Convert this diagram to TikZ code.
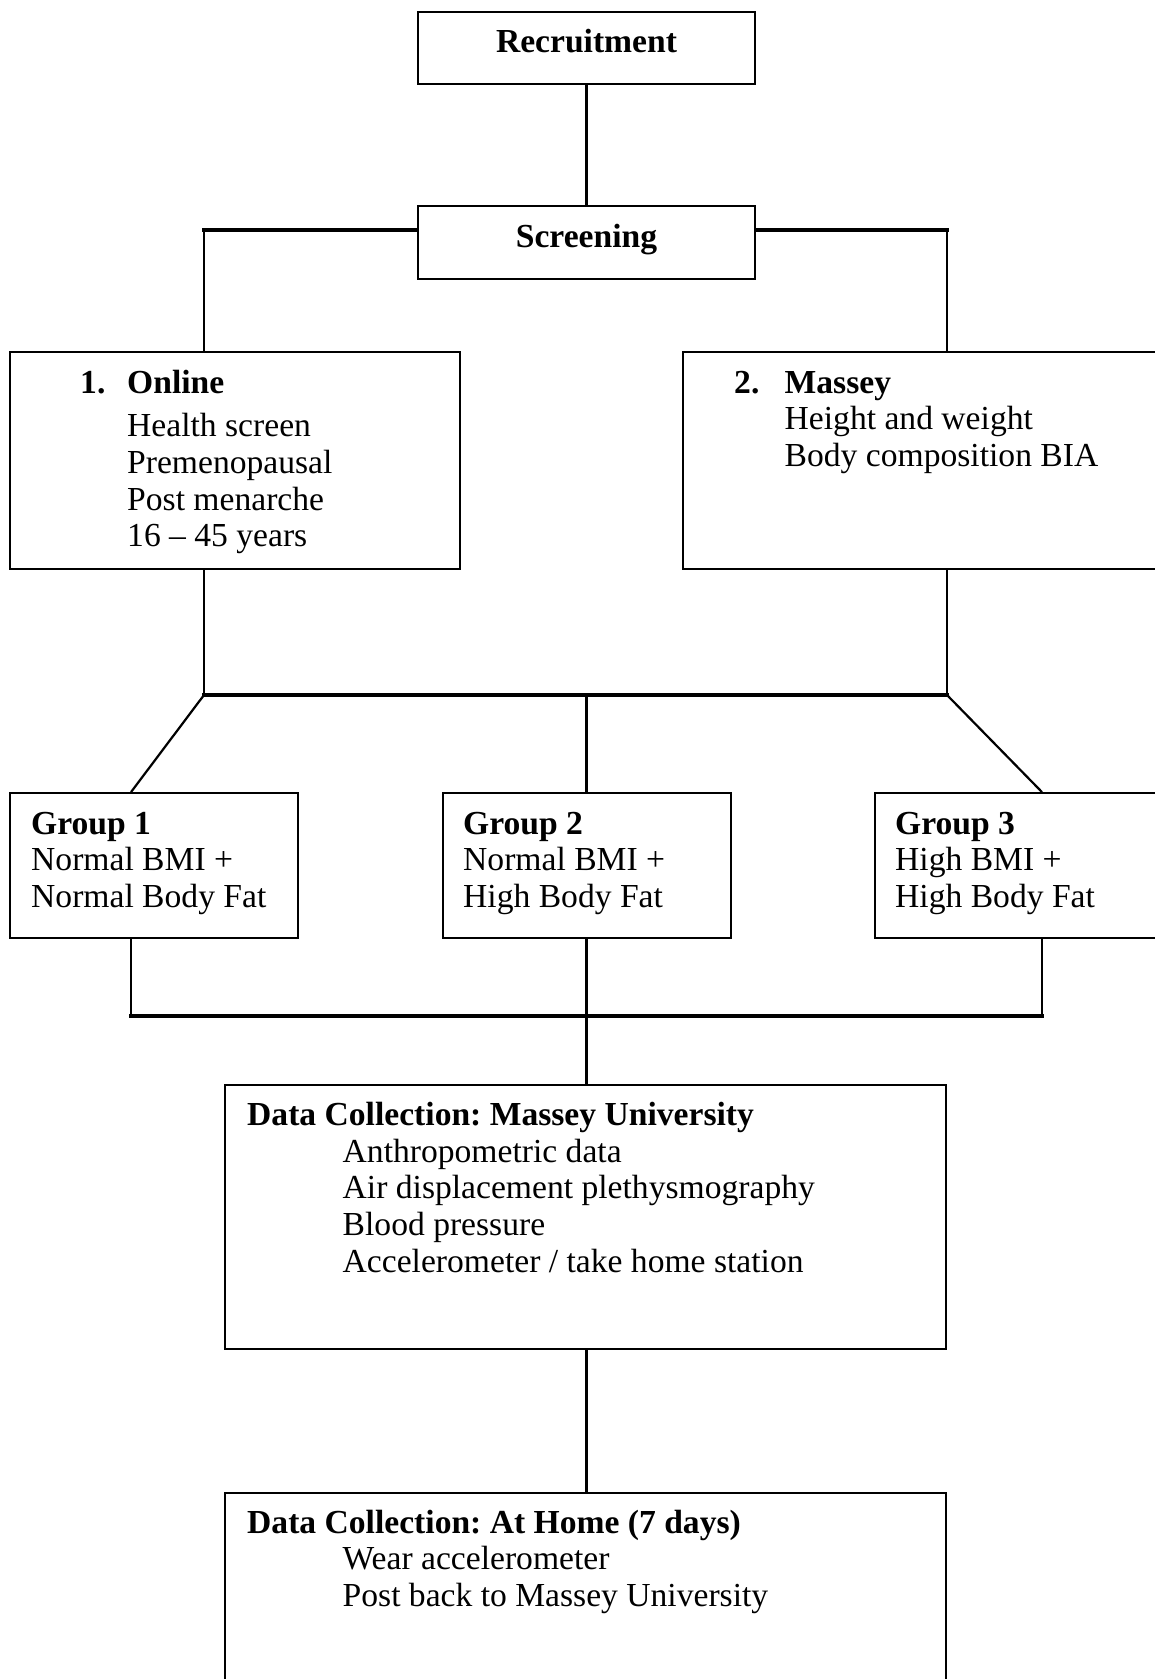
\documentclass[tikz,border=0pt]{standalone}
\usepackage{fontspec}
\setmainfont{Liberation Serif}
\frenchspacing
\begin{document}
\begin{tikzpicture}[x=1pt,y=-1pt,
  font=\fontsize{33.6}{37}\selectfont,
  box/.style={draw, line width=1.8pt, inner sep=0pt},
  txt/.style={anchor=base west, inner sep=0pt},
  btxt/.style={txt, font=\fontsize{33.6}{37}\selectfont\bfseries},
  ctxt/.style={anchor=base, inner sep=0pt, font=\fontsize{33.6}{37}\selectfont\bfseries},
  vline/.style={line width=2.2pt},
  hline/.style={line width=3.5pt, line cap=rect}]
\useasboundingbox (0,0) rectangle (1155,1679);
\clip (0,0) rectangle (1155,1679);

% boxes
\node[box, minimum width=337pt, minimum height=72pt] (rec) at (586.5,48) {};
\node[box, minimum width=337pt, minimum height=73pt] (scr) at (586.5,242.5) {};
\node[box, minimum width=450pt, minimum height=217pt] (onl) at (235,460.5) {};
\node[box, minimum width=517pt, minimum height=217pt] (mas) at (941.5,460.5) {};
\node[box, minimum width=288pt, minimum height=145pt] (g1) at (154,865.5) {};
\node[box, minimum width=288pt, minimum height=145pt] (g2) at (587,865.5) {};
\node[box, minimum width=325pt, minimum height=145pt] (g3) at (1037.5,865.5) {};
\node[box, minimum width=721pt, minimum height=264pt] (dc) at (585.5,1217) {};
\node[box, minimum width=721pt, minimum height=247pt] (home) at (585.5,1616.5) {};

% texts
\node[ctxt] (trec) at (586.5,52) {Recruitment};
\node[ctxt] (tscr) at (586.5,247) {Screening};

\node[btxt] (on1) at (80,393) {1.};
\node[btxt] (on2) at (127,393) {Online};
\node[txt] (on3) at (127,436) {Health screen};
\node[txt] (on4) at (127,473) {Premenopausal};
\node[txt] (on5) at (127,510) {Post menarche};
\node[txt] (on6) at (127,546) {16 -- 45 years};

\node[btxt] (ma1) at (734,393) {2.};
\node[btxt] (ma2) at (784.5,393) {Massey};
\node[txt] (ma3) at (784.5,429) {Height and weight};
\node[txt] (ma4) at (784.5,466) {Body composition BIA};

\node[btxt] (ga1) at (31,834) {Group 1};
\node[txt] (ga2) at (31,870) {Normal BMI +};
\node[txt] (ga3) at (31,907) {Normal Body Fat};

\node[btxt] (gb1) at (463,834) {Group 2};
\node[txt] (gb2) at (463,870) {Normal BMI +};
\node[txt] (gb3) at (463,907) {High Body Fat};

\node[btxt] (gc1) at (895,834) {Group 3};
\node[txt] (gc2) at (895,870) {High BMI +};
\node[txt] (gc3) at (895,907) {High Body Fat};

\node[btxt] (dc1) at (247,1125) {Data Collection: Massey University};
\node[txt] (dc2) at (342.5,1162) {Anthropometric data};
\node[txt] (dc3) at (342.5,1198) {Air displacement plethysmography};
\node[txt] (dc4) at (342.5,1235) {Blood pressure};
\node[txt] (dc5) at (342.5,1272) {Accelerometer / take home station};

\node[btxt] (ho1) at (247,1533) {Data Collection: At Home (7 days)};
\node[txt] (ho2) at (342.5,1569) {Wear accelerometer};
\node[txt] (ho3) at (342.5,1606) {Post back to Massey University};

% junction coordinates
\coordinate (jtl) at (204,230);
\coordinate (jtr) at (947,230);
\coordinate (jml) at (204,695);
\coordinate (jmr) at (947,695);
\coordinate (cm) at (586.5,695);
\coordinate (c1) at (131,1016);
\coordinate (c3) at (1042,1016);
\coordinate (cb) at (586.5,1016);

% connectors
\draw[vline] (rec.south) -- (scr.north);
\draw[hline] (scr.west |- jtl) -- (jtl);
\draw[vline] (jtl) -- (onl.north -| jtl);
\draw[hline] (scr.east |- jtr) -- (jtr);
\draw[vline] (jtr) -- (mas.north -| jtr);
\draw[vline] (onl.south -| jml) -- (jml);
\draw[vline] (mas.south -| jmr) -- (jmr);
\draw[hline] (jml) -- (jmr);
\draw[vline] (jml) -- (g1.north -| c1);
\draw[vline] (jmr) -- (g3.north -| c3);
\draw[vline] (cm) -- (g2.north -| cm);
\draw[vline] (g1.south -| c1) -- (c1);
\draw[vline] (g3.south -| c3) -- (c3);
\draw[hline] (c1) -- (c3);
\draw[vline] (g2.south -| cb) -- (dc.north -| cb);
\draw[vline] (dc.south -| cb) -- (home.north -| cb);
\end{tikzpicture}
\end{document}
